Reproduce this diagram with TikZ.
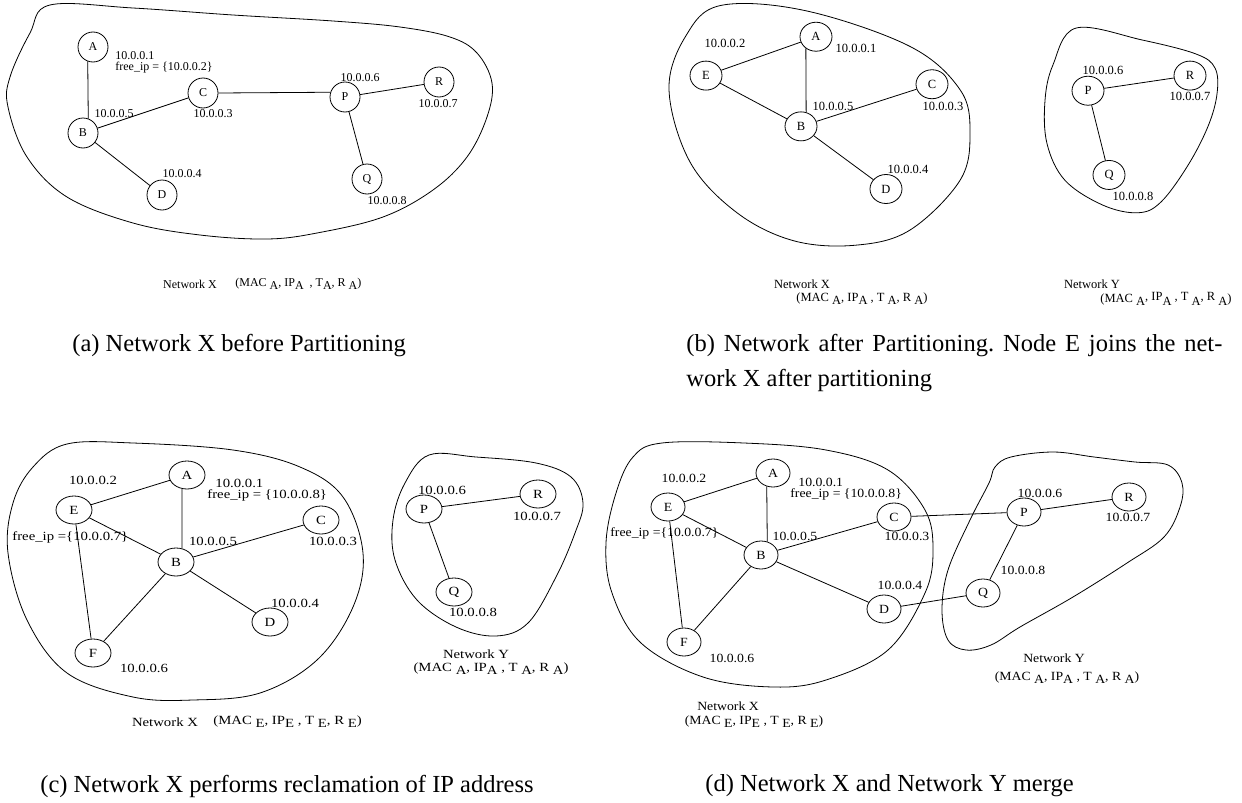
\documentclass[tikz,border=0pt]{standalone}
\usepackage{fontspec}
\setmainfont{Liberation Serif}
\newfontfamily\wfa[FakeStretch=1.18]{Liberation Serif}
\newfontfamily\wfb[FakeStretch=1.1]{Liberation Serif}
\usetikzlibrary{shapes.geometric}
\newcommand\dn[1]{\raisebox{-0.55ex}{#1}}
\newcommand\upr[1]{\raisebox{0.35ex}{#1}}
\frenchspacing
\tikzset{
  every node/.style={inner sep=0pt},
  nd/.style={draw, circle, minimum size=30pt, inner sep=0pt},
  ndb/.style={draw, ellipse, minimum width=32pt, minimum height=29pt, inner sep=0pt},
  ndc/.style={draw, ellipse, minimum width=36pt, minimum height=28pt, inner sep=0pt},
  ndd/.style={draw, ellipse, minimum width=34pt, minimum height=28pt, inner sep=0pt},
  blob/.style={draw, line width=0.8pt},
  edge/.style={draw, line width=0.8pt},
  capt/.style={font=\fontsize{24.5}{35}\selectfont, anchor=west, align=left}
}
\begin{document}
\begin{tikzpicture}[x=1pt, y=-1pt, line width=0.8pt]
\fill[white] (0,0) rectangle (1242,803);
\useasboundingbox (0,0) rectangle (1242,803);

% ---------------- panel (a)
\begin{scope}[font=\fontsize{12}{12}\selectfont]
\draw[blob] plot[smooth cycle, tension=0.6] coordinates {(50,5) (133,8) (233,15) (333,21) (400,27) (450,37) (477,53) (492,83) (487,117) (467,157) (433,190) (383,217) (317,233) (267,239) (200,235) (133,223) (67,197) (27,157) (8,107) (10,77) (30,33)};
\node[nd] (aA) at (93,47) {A};
\node[nd] (aB) at (83,133) {B};
\node[nd] (aC) at (203,93) {C};
\node[nd] (aD) at (162,195) {D};
\node[nd] (aP) at (345,97) {P};
\node[nd] (aR) at (439,82) {R};
\node[nd] (aQ) at (367,179) {Q};
\draw[edge] (aA.250) -- (aB.70);
\draw[edge] (aB) -- (aC);
\draw[edge] (aB) -- (aD);
\draw[edge] (aC.east) -- (aP.162);
\draw[edge] (aP) -- (aR);
\draw[edge] (aP) -- (aQ);
\node[anchor=west] (a1) at (115,56) {10.0.0.1};
\node[anchor=west] (a1f) at (115,68) {free\_ip = \{10.0.0.2\}};
\node (a5) at (114,114) {10.0.0.5};
\node (a3) at (213,114) {10.0.0.3};
\node (a4) at (182,174) {10.0.0.4};
\node (a6) at (360,78) {10.0.0.6};
\node (a7) at (438,104) {10.0.0.7};
\node (a8) at (387,201) {10.0.0.8};
\node (aNX) at (190,284) {Network X};
\node[anchor=west] (aM) at (235,284) {(MAC \dn{A}, IP\dn{A}\ \ , T\dn{A}, R \dn{A})};
\end{scope}

% ---------------- panel (b)
\begin{scope}[font=\fontsize{12.5}{12.5}\selectfont]
\begin{scope}[yscale=1.08]
\draw[blob] plot[smooth cycle, tension=0.6] coordinates {(721,5) (806,10) (910,43) (960,83) (970,123) (960,167) (910,213) (856,227) (794,223) (737,197) (690,150) (669,83) (686,33)};
\node[ndb] (bA) at (816,34) {A};
\node[ndb] (bE) at (706,70) {E};
\node[ndb] (bC) at (932,78) {C};
\node[ndb] (bB) at (801,117) {B};
\node[ndb] (bD) at (886,175) {D};
\node (b2) at (725,40) {10.0.0.2};
\node (b1) at (856,45) {10.0.0.1};
\node (b5) at (833,99) {10.0.0.5};
\node (b3) at (943,99) {10.0.0.3};
\node (b4) at (908,157) {10.0.0.4};
\draw[blob] plot[smooth cycle, tension=0.6] coordinates {(1076,26) (1142,37) (1196,50) (1215,63) (1217,87) (1208,117) (1188,153) (1161,187) (1138,197) (1103,190) (1065,167) (1047,133) (1045,93) (1053,60)};
\node[ndb] (bP) at (1088,84) {P};
\node[ndb] (bR) at (1190,70) {R};
\node[ndb] (bQ) at (1109,162) {Q};
\node (b6) at (1103,65) {10.0.0.6};
\node (b7) at (1190,89) {10.0.0.7};
\node (b8) at (1133,182) {10.0.0.8};
\end{scope}
\draw[edge] (bE) -- (bA);
\draw[edge] (bA.229) -- (bB.70);
\draw[edge] (bE) -- (bB);
\draw[edge] (bB) -- (bC);
\draw[edge] (bB) -- (bD);
\draw[edge] (bP) -- (bR);
\draw[edge] (bP) -- (bQ);
\node (bNX) at (802,284) {Network X};
\node (bMX) at (862,299) {(MAC \dn{A}, IP\dn{A} , T \dn{A}, R \dn{A})};
\node (bNY) at (1092,284) {Network Y};
\node (bMY) at (1166,299) {(MAC \dn{A}\upr{, IP}\dn{A}\upr{ , T} \dn{A}\upr{, R} \dn{A})};
\end{scope}

% ---------------- panel (c)
\begin{scope}[font=\wfa\fontsize{12.5}{12.5}\selectfont]
\draw[blob] plot[smooth cycle, tension=0.6] coordinates {(67,444) (133,443) (233,450) (300,467) (343,497) (363,553) (353,607) (317,660) (260,693) (193,700) (133,697) (67,673) (27,620) (8,553) (13,503) (33,467)};
\node[ndc] (cA) at (187,475) {A};
\node[ndc] (cE) at (74,510) {E};
\node[ndc] (cC) at (321,520) {C};
\node[ndc] (cB) at (176,562) {B};
\node[ndc] (cD) at (270,622) {D};
\node[ndc] (cF) at (93,653) {F};
\draw[edge] (cE) -- (cA);
\draw[edge] (cA.250) -- (cB.66);
\draw[edge] (cE) -- (cB);
\draw[edge] (cB) -- (cC);
\draw[edge] (cB) -- (cD);
\draw[edge] (cB) -- (cF);
\draw[edge] (cE) -- (cF);
\node (c2) at (93,480) {10.0.0.2};
\node[anchor=west] (c1) at (215,483) {10.0.0.1};
\node[anchor=west] (c1f) at (207,495) {free\_ip = \{10.0.0.8\}};
\node[anchor=west] (cEf) at (12,537) {free\_ip =\{10.0.0.7\}};
\node (c5) at (213,541) {10.0.0.5};
\node (c3) at (333,541) {10.0.0.3};
\node (c4) at (295,603) {10.0.0.4};
\node (c6) at (144,668) {10.0.0.6};
\node (cNX) at (165,722) {Network X};
\node[anchor=west] (cMX) at (213,722) {(MAC \dn{E}, IP\dn{E} , T \dn{E}, R \dn{E})};
\draw[blob] plot[smooth cycle, tension=0.6] coordinates {(429,455) (476,457) (536,463) (571,477) (583,503) (575,533) (556,577) (528,623) (496,636) (456,627) (417,600) (395,560) (393,520) (405,483)};
\node[ndc] (cP) at (424,509) {P};
\node[ndc] (cR) at (538,494) {R};
\node[ndc] (cQ) at (454,592) {Q};
\draw[edge] (cP) -- (cR);
\draw[edge] (cP) -- (cQ);
\node (cy6) at (442,490) {10.0.0.6};
\node (cy7) at (537,516) {10.0.0.7};
\node (cy8) at (473,612) {10.0.0.8};
\node (cNY) at (476,654) {Network Y};
\node (cMY) at (491,669) {(MAC \dn{A}, IP\dn{A} , T \dn{A}, R \dn{A})};
\end{scope}

% ---------------- panel (d)
\begin{scope}[font=\wfb\fontsize{12.5}{12.5}\selectfont]
\draw[blob] plot[smooth cycle, tension=0.6] coordinates {(662,443) (744,443) (826,450) (888,470) (925,510) (933,550) (925,593) (888,650) (826,680) (773,687) (703,677) (641,643) (612,593) (606,543) (616,493) (633,457)};
\draw[blob] plot[smooth cycle, tension=0.6] coordinates {(995,467) (1011,457) (1053,452) (1094,457) (1135,462) (1168,465) (1182,483) (1180,507) (1164,537) (1127,563) (1073,597) (1020,627) (991,645) (966,650) (948,640) (942,610) (948,570) (970,520) (989,483)};
\node[ndd] (dA) at (773,473) {A};
\node[ndd] (dE) at (668,507) {E};
\node[ndd] (dC) at (894,517) {C};
\node[ndd] (dB) at (761,555) {B};
\node[ndd] (dD) at (884,609) {D};
\node[ndd] (dF) at (684,642) {F};
\node[ndd] (dP) at (1024,512) {P};
\node[ndd] (dR) at (1129,497) {R};
\node[ndd] (dQ) at (983,593) {Q};
\draw[edge] (dE) -- (dA);
\draw[edge] (dA.245) -- (dB.65);
\draw[edge] (dE) -- (dB);
\draw[edge] (dB) -- (dC);
\draw[edge] (dB) -- (dD);
\draw[edge] (dB) -- (dF);
\draw[edge] (dE) -- (dF);
\draw[edge] (dC) -- (dP);
\draw[edge] (dP) -- (dR);
\draw[edge] (dP) -- (dQ);
\draw[edge] (dD) -- (dQ);
\node (d2) at (684,478) {10.0.0.2};
\node[anchor=west] (d1) at (798,482) {10.0.0.1};
\node[anchor=west] (d1f) at (790,494) {free\_ip = \{10.0.0.8\}};
\node[anchor=west] (dEf) at (610,533) {free\_ip =\{10.0.0.7\}};
\node (d5) at (795,536) {10.0.0.5};
\node (d3) at (907,536) {10.0.0.3};
\node (d4) at (900,585) {10.0.0.4};
\node (d6) at (732,658) {10.0.0.6};
\node (dy6) at (1040,493) {10.0.0.6};
\node (dy7) at (1128,517) {10.0.0.7};
\node (dy8) at (1023,570) {10.0.0.8};
\node (dNY) at (1054,658) {Network Y};
\node (dMY) at (1067,678) {(MAC \dn{A}, IP\dn{A} , T \dn{A}, R \dn{A})};
\node (dNX) at (728,706) {Network X};
\node (dMX) at (754,722) {(MAC \dn{E}, IP\dn{E} , T \dn{E}, R \dn{E})};
\end{scope}

% ---------------- captions
\node[capt] (capa) at (72,346) {(a) Network X before Partitioning};
\node[capt, text width=536pt, align=justify] (capb) at (686,363) {(b) Network after Partitioning. Node E joins the net-\linebreak work X after partitioning};
\node[capt] (capc) at (40,786) {(c) Network X performs reclamation of IP address};
\node[capt] (capd) at (705,786) {(d) Network X and Network Y merge};
\end{tikzpicture}
\end{document}
